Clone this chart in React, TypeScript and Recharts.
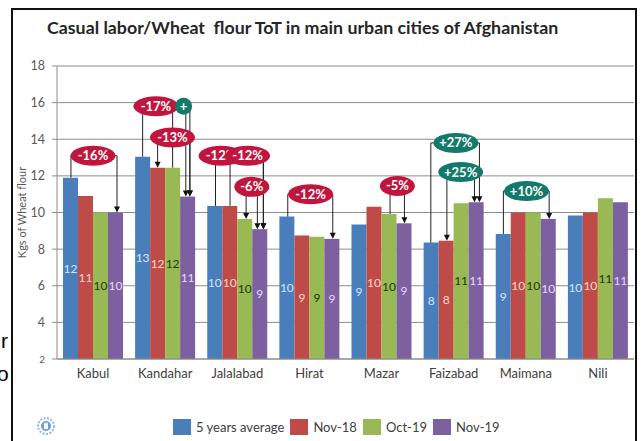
import React from 'react';
import { Bar, BarChart, CartesianGrid, LabelList, XAxis, YAxis } from 'recharts';

const cities = ['Kabul', 'Kandahar', 'Jalalabad', 'Hirat', 'Mazar', 'Faizabad', 'Maimana', 'Nili'];
const fiveYearAvg = [11.9, 13.05, 10.36, 9.78, 9.34, 8.36, 8.83, 9.83];
const nov18 = [10.9, 12.45, 10.36, 8.74, 10.32, 8.46, 10.0, 10.0];
const oct19 = [10.0, 12.45, 9.65, 8.68, 9.92, 10.51, 10.0, 10.78];
const nov19 = [10.0, 10.87, 9.09, 8.56, 9.41, 10.56, 9.65, 10.56];
const yTicks = [2, 4, 6, 8, 10, 12, 14, 16, 18];

const seriesKeys = ['avg', 'nov18', 'oct19', 'nov19'];
const seriesNames = ['5 years average', 'Nov-18', 'Oct-19', 'Nov-19'];
const seriesColors = ['#4a7ebb', '#be4b48', '#98b954', '#7d60a0'];
const labelColors = ['#d2e6ff', '#ffd9cc', '#1f3a00', '#e6d9ff'];

// callouts: level = y value of the connector, at/slot = position in bar widths from group left
interface Leg {
  slot: number;
  arrow?: boolean;
}
interface Callout {
  city: string;
  text: string;
  up: boolean;
  level: number;
  at: number;
  legs: Leg[];
}

const callouts: Callout[] = [
  { city: 'Kabul', text: '-16%', up: false, level: 13.1, at: 2.0, legs: [{ slot: 0.53 }, { slot: 3.6, arrow: true }] },
  { city: 'Kandahar', text: '-17%', up: false, level: 15.8, at: 1.39, legs: [{ slot: 0.5 }, { slot: 3.38, arrow: true }] },
  { city: 'Kandahar', text: '+', up: true, level: 15.8, at: 3.23, legs: [{ slot: 2.5 }, { slot: 3.65, arrow: true }] },
  { city: 'Kandahar', text: '-13%', up: false, level: 14.1, at: 2.49, legs: [{ slot: 1.5, arrow: true }, { slot: 3.65, arrow: true }] },
  { city: 'Jalalabad', text: '-12%', up: false, level: 13.1, at: 0.92, legs: [{ slot: 0.55 }, { slot: 3.74, arrow: true }] },
  { city: 'Jalalabad', text: '-12%', up: false, level: 13.1, at: 2.69, legs: [{ slot: 1.52 }, { slot: 3.74, arrow: true }] },
  { city: 'Jalalabad', text: '-6%', up: false, level: 11.4, at: 2.97, legs: [{ slot: 2.59, arrow: true }, { slot: 3.34, arrow: true }] },
  { city: 'Hirat', text: '-12%', up: false, level: 11.0, at: 2.08, legs: [{ slot: 0.56 }, { slot: 3.56, arrow: true }] },
  { city: 'Mazar', text: '-5%', up: false, level: 11.45, at: 3.06, legs: [{ slot: 2.57 }, { slot: 3.53, arrow: true }] },
  { city: 'Faizabad', text: '+27%', up: true, level: 13.8, at: 2.15, legs: [{ slot: 0.48 }, { slot: 3.72, arrow: true }] },
  { city: 'Faizabad', text: '+25%', up: true, level: 12.21, at: 2.47, legs: [{ slot: 1.55, arrow: true }, { slot: 3.39, arrow: true }] },
  { city: 'Maimana', text: '+10%', up: true, level: 11.17, at: 2.05, legs: [{ slot: 0.51 }, { slot: 3.56, arrow: true }] },
];

const data = cities.map((city, i) => ({
  city,
  avg: fiveYearAvg[i],
  nov18: nov18[i],
  oct19: oct19[i],
  nov19: nov19[i],
}));

const FONT = 'Lato, "Open Sans", sans-serif';
const Y_MIN = 2;

// last series draws its bar plus the callouts of its group, using the bar's own geometry
const CalloutBar = (props: any) => {
  const { x, y, width, height, fill, payload } = props;
  const bottom = y + height;
  const ppu = height / (payload.nov19 - Y_MIN);
  const left = x - 3 * width;
  const toY = (v: number) => bottom - (v - Y_MIN) * ppu;
  const items = callouts.filter((c) => c.city === payload.city);

  return (
    <g>
      <rect x={x} y={y} width={width} height={height} fill={fill} />
      {items.map((c, ci) => {
        const ly = toY(c.level);
        const xs = c.legs.map((l) => left + l.slot * width);
        return (
          <g key={`l${ci}`}>
            <line x1={Math.min(...xs)} x2={Math.max(...xs)} y1={ly} y2={ly} stroke="#222" strokeWidth={1} />
            {c.legs.map((l, li) => {
              const bi = Math.min(3, Math.max(0, Math.floor(l.slot)));
              const top = toY(payload[seriesKeys[bi]]);
              const lx = xs[li];
              return (
                <g key={li}>
                  <line x1={lx} x2={lx} y1={ly} y2={l.arrow ? top - 5 : top} stroke="#222" strokeWidth={1} />
                  {l.arrow && <path d={`M${lx - 3},${top - 6} L${lx + 3},${top - 6} L${lx},${top} Z`} fill="#111" />}
                </g>
              );
            })}
          </g>
        );
      })}
      {items.map((c, ci) => {
        const ly = toY(c.level);
        const cx = left + c.at * width;
        const rx = c.text.length === 1 ? 8.5 : c.text.length * 5 + 2.5;
        const ry = c.text.length === 1 ? 8.5 : 10;
        return (
          <g key={`o${ci}`}>
            <ellipse cx={cx} cy={ly} rx={rx} ry={ry} fill={c.up ? '#137a6b' : '#c0163e'} />
            <text
              x={cx}
              y={ly}
              dy="0.35em"
              textAnchor="middle"
              fill="#fff"
              fontFamily={FONT}
              fontWeight="bold"
              fontSize={13}
            >
              {c.text}
            </text>
          </g>
        );
      })}
    </g>
  );
};

const YTick = (props: any) => {
  const { x, y, payload } = props;
  return (
    <text x={x} y={y} dy="0.35em" textAnchor="end" fill="#595959" fontFamily={FONT} fontSize={payload.value === 2 ? 10 : 12.5}>
      {payload.value}
    </text>
  );
};

export default function App() {
  return (
    <div style={{ position: 'absolute', left: 0, top: 0, width: 643, height: 441, background: '#fff', overflow: 'hidden' }}>
      <div style={{ position: 'absolute', left: 1, top: 329, fontFamily: '"Liberation Sans", Arial', fontSize: 21 }}>r</div>
      <div style={{ position: 'absolute', left: -3, top: 362, fontFamily: '"Liberation Sans", Arial', fontSize: 21 }}>o</div>
      <div
        style={{
          position: 'absolute',
          left: 11,
          top: 8,
          width: 622,
          height: 460,
          border: '2px solid #111',
        }}
      />
      <div
        style={{
          position: 'absolute',
          left: 47,
          top: 16,
          fontFamily: FONT,
          fontWeight: 'bold',
          fontSize: 17.8,
          color: '#262626',
          whiteSpace: 'pre',
        }}
      >
        Casual labor/Wheat  flour ToT in main urban cities of Afghanistan
      </div>
      <div style={{ position: 'absolute', left: 0, top: 0 }}>
        <BarChart
          width={643}
          height={441}
          data={data}
          margin={{ top: 66, right: 9, bottom: 52, left: 17 }}
          barGap={0}
          barSize={15}
        >
          <CartesianGrid vertical={false} stroke="#8c8c8c" />
          <XAxis
            dataKey="city"
            tickLine={false}
            tickSize={0}
            tickMargin={10}
            stroke="#8c8c8c"
            tick={{ fill: '#404040', fontSize: 13, fontFamily: FONT }}
            height={30}
          />
          <YAxis
            domain={[2, 18]}
            ticks={yTicks}
            width={40}
            tickSize={5}
            tickMargin={7}
            stroke="#8c8c8c"
            tick={<YTick />}
            label={{
              value: 'Kgs of Wheat flour',
              angle: -90,
              position: 'insideLeft',
              offset: 5,
              style: { textAnchor: 'middle', fill: '#595959', fontSize: 11, fontFamily: FONT },
            }}
          />
          {seriesKeys.map((key, i) => (
            <Bar
              key={key}
              dataKey={key}
              name={seriesNames[i]}
              fill={seriesColors[i]}
              isAnimationActive={false}
              shape={i === 3 ? (p: any) => <CalloutBar {...p} /> : undefined}
            >
              <LabelList
                dataKey={key}
                position="center"
                formatter={(v: any) => Math.round(Number(v))}
                fill={labelColors[i]}
                fontSize={12}
                fontFamily={FONT}
              />
            </Bar>
          ))}
        </BarChart>
      </div>
      <svg style={{ position: 'absolute', left: 36, top: 415 }} width={20} height={22}>
        <circle cx={10} cy={11} r={8} fill="none" stroke="#8fb8e0" strokeWidth={2} strokeDasharray="2 1.5" />
        <circle cx={10} cy={11} r={5} fill="#6d9fd6" />
        <path d="M8,14 L8,9 L9,7 L10,9 L11,7 L12,9 L12,14 Z" fill="#fff" />
      </svg>
      <div
        style={{
          position: 'absolute',
          left: 173,
          top: 419,
          display: 'flex',
          alignItems: 'center',
          fontFamily: FONT,
          fontSize: 13,
          color: '#404040',
        }}
      >
        {seriesNames.map((name, i) => (
          <div key={name} style={{ display: 'flex', alignItems: 'center', marginRight: 6 }}>
            <span style={{ width: 18, height: 16, background: seriesColors[i], marginRight: 5, display: 'inline-block' }} />
            <span>{name}</span>
          </div>
        ))}
      </div>
    </div>
  );
}
